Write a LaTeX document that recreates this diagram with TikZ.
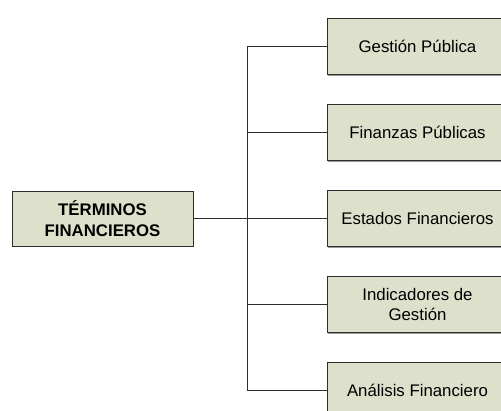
\documentclass[tikz,border=0pt]{standalone}
\usepackage{fontspec}
\setmainfont{Liberation Sans}
\usetikzlibrary{trees,shadows}
\definecolor{boxfill}{RGB}{221,225,203}
\definecolor{boxline}{RGB}{45,45,45}

\begin{document}
\begin{tikzpicture}[grow'=right, level distance=315pt, sibling distance=86pt,
	every node/.style={draw=boxline, line width=0.8pt, fill=boxfill, minimum width=181pt, minimum height=56pt, inner sep=2pt, align=center,
		font=\fontsize{16.8}{20}\selectfont, drop shadow={shadow xshift=1.2pt, shadow yshift=-1.2pt, fill=gray!80, opacity=1}},
	edge from parent/.style={draw=boxline, line width=0.8pt},
	edge from parent path={(\tikzparentnode.east) -- +(54pt,0) |- (\tikzchildnode.west)}]
\useasboundingbox (0,0) rectangle (501pt,411pt);
\clip (0,0) rectangle (501pt,411pt);
\node[minimum height=55pt, font=\fontsize{16.8}{21}\selectfont\bfseries] (terminos) at (102.5pt,192.5pt) {TÉRMINOS\\FINANCIEROS}
	child { node (gestion) {Gestión Pública} }
	child { node (finanzas) {Finanzas Públicas} }
	child { node (estados) {Estados Financieros} }
	child { node (indicadores) {Indicadores de\\Gestión} }
	child { node (analisis) {Análisis Financiero} };
\end{tikzpicture}
\end{document}
